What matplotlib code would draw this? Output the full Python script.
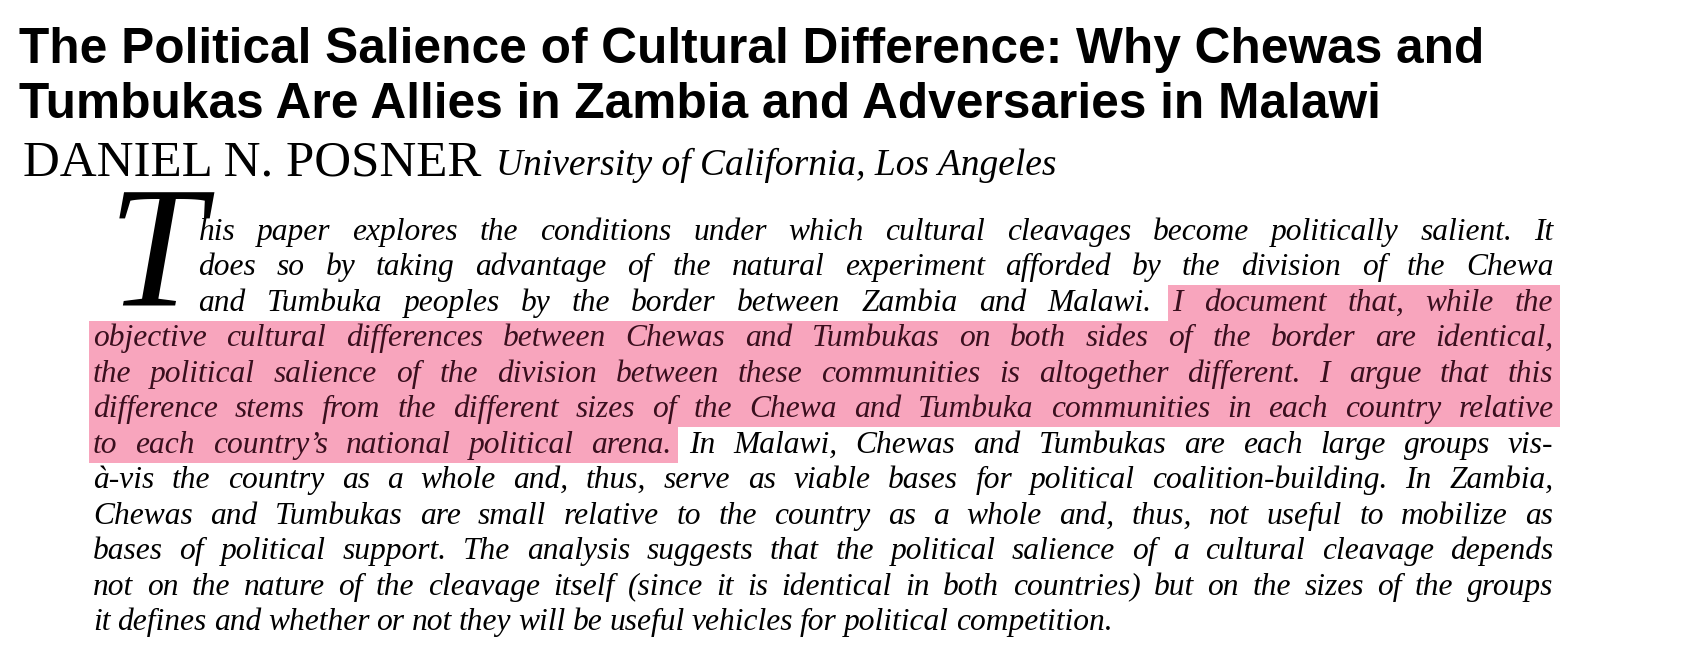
import matplotlib
matplotlib.use("Agg")
import matplotlib.pyplot as plt
import matplotlib.patches as mpatches

W, H = 1683, 672
S = 1.056
TITLE = ["The Political Salience of Cultural Difference: Why Chewas and",
         "Tumbukas Are Allies in Zambia and Adversaries in Malawi"]
AUTHOR = "DANIEL N. POSNER"
AFFIL = "University of California, Los Angeles"
DROP = "T"
BODY = [
    "his paper explores the conditions under which cultural cleavages become politically salient. It",
    "does so by taking advantage of the natural experiment afforded by the division of the Chewa",
    "and Tumbuka peoples by the border between Zambia and Malawi. I document that, while the",
    "objective cultural differences between Chewas and Tumbukas on both sides of the border are identical,",
    "the political salience of the division between these communities is altogether different. I argue that this",
    "difference stems from the different sizes of the Chewa and Tumbuka communities in each country relative",
    "to each country\u2019s national political arena. In Malawi, Chewas and Tumbukas are each large groups vis-",
    "\u00e0-vis the country as a whole and, thus, serve as viable bases for political coalition-building. In Zambia,",
    "Chewas and Tumbukas are small relative to the country as a whole and, thus, not useful to mobilize as",
    "bases of political support. The analysis suggests that the political salience of a cultural cleavage depends",
    "not on the nature of the cleavage itself (since it is identical in both countries) but on the sizes of the groups",
    "it defines and whether or not they will be useful vehicles for political competition.",
]
# highlighted word range per line: (first word index, last word index exclusive)
HIGHLIGHT = {2: (10, None), 3: (0, None), 4: (0, None), 5: (0, None), 6: (0, 6)}

SANS = ["Liberation Sans Narrow", "Liberation Sans", "DejaVu Sans"]
SERIF = ["Liberation Serif", "DejaVu Serif"]
PINK = "#f8a5bd"

fig = plt.figure(figsize=(W / 100, H / 100), dpi=100)
fig.patch.set_facecolor("white")
ax = fig.add_axes([0, 0, 1, 1])
ax.set_xlim(0, W)
ax.set_ylim(H, 0)
ax.axis("off")
r = fig.canvas.get_renderer()


def width(t):
    return t.get_window_extent(renderer=r).width


def fit_text(s, x, y, target_w, **kw):
    t = ax.text(x * S, y * S, s, fontsize=40, va="baseline", ha="left", **kw)
    t.set_fontsize(40 * target_w * S / width(t))
    return t


# title and byline
t1 = fit_text(TITLE[0], 18, 60, 1383, family=SANS, fontweight="bold")
ax.text(18 * S, 112 * S, TITLE[1], va="baseline", family=SANS,
        fontweight="bold", fontsize=t1.get_fontsize())
fit_text(AUTHOR, 22, 166, 434, family=SERIF)
fit_text(AFFIL, 470, 166, 530, family=SERIF, style="italic")

# drop cap
ax.text(102 * S, 290 * S, DROP, fontsize=118 * S, family=SERIF, style="italic",
        va="baseline")

# justified body
FS = 21.5 * S
base0, step = 227 * S, 33.6 * S
for i, line in enumerate(BODY):
    y = base0 + step * i
    left = (188 if i < 3 else 88) * S
    right = 1471 * S
    words = line.split(" ")
    hl = HIGHLIGHT.get(i)
    objs = []
    for k, w in enumerate(words):
        inside = hl is not None and k >= hl[0] and (hl[1] is None or k < hl[1])
        objs.append(ax.text(0, y, w, fontsize=FS, family=SERIF, style="italic",
                            va="baseline", ha="left", zorder=3,
                            color="#3a0f1e" if inside else "black"))
    ws = [width(o) for o in objs]
    if i == len(BODY) - 1:
        gap = 7
    else:
        gap = (right - left - sum(ws)) / (len(words) - 1)
    xs = []
    x = left
    for o, w in zip(objs, ws):
        o.set_x(x)
        xs.append(x)
        x += w + gap
    if hl is not None:
        a, b = hl
        b = len(words) if b is None else b
        x0 = xs[a] - 4 if a > 0 else 84 * S
        x1 = xs[b - 1] + ws[b - 1] + 6 if b < len(words) else 1477 * S
        ax.add_patch(mpatches.Rectangle((x0, y - 24 * S), x1 - x0, step,
                                        facecolor=PINK, edgecolor="none", zorder=1))

fig.savefig("out.png", dpi=100, facecolor="white")
